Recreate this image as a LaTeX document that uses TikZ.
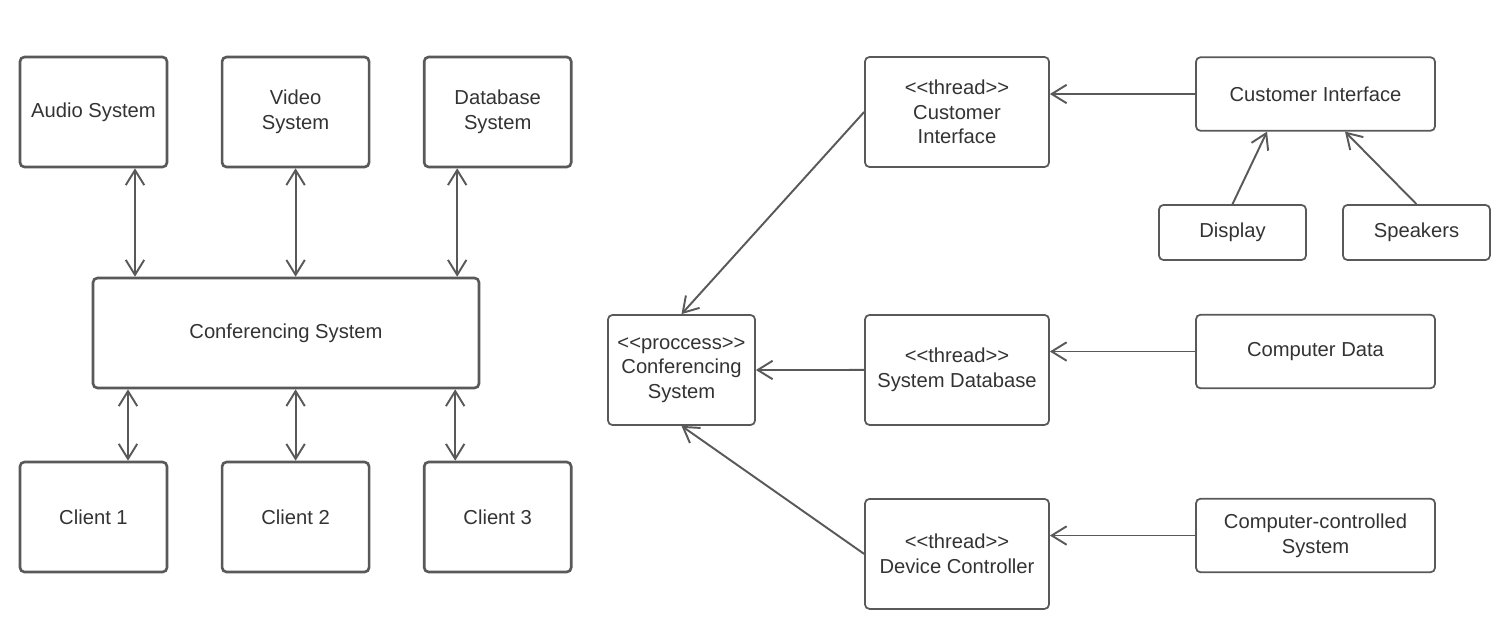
\documentclass[tikz,border=0pt]{standalone}
\usepackage{fontspec}
\setmainfont{Liberation Sans}
\usepackage{tikz}
\usetikzlibrary{arrows.meta}
\usetikzlibrary{positioning}
\definecolor{linegray}{HTML}{595959}
\definecolor{textgray}{HTML}{333333}
\tikzset{
    module/.style={
      rectangle, rounded corners=2.5pt,
           draw=linegray, line width=1.5pt,
           inner sep=2pt,
           align=center,
           text=textgray,
           font=\fontsize{11.5}{14}\selectfont,
           minimum width=2.94cm,
           minimum height=2.2cm,
           },
}
\tikzset{
    task/.style={
      rectangle, rounded corners=2.5pt,
           draw=linegray, line width=1pt,
           inner sep=2pt,
           align=center,
           text=textgray,
           font=\fontsize{11.5}{14}\selectfont,
           minimum width=3.68cm,
           minimum height=2.2cm,
           },
}
\tikzset{
    source/.style={
      task,
           minimum width=4.78cm,
           minimum height=1.47cm,
           },
}
\tikzset{
    device/.style={
      task,
           minimum width=2.94cm,
           minimum height=1.1cm,
           },
}
\tikzset{
    link/.style={
      draw=linegray, line width=1.1pt,
           },
}

\begin{document}
\begin{tikzpicture}[x=0.02cm,y=-0.02cm,>={Straight Barb[length=8.5pt,width=10.5pt]}]
\useasboundingbox (0,0) rectangle (1498,639);

% left: modules
\node[module](audio) at (93.5,112){Audio System};
\node[module,right = 1.05cm of audio](video){Video\\System};
\node[module,right = 1.05cm of video](db){Database\\System};

\node[module,minimum width=7.72cm](conf) at (286,333){Conferencing System};

\node[module](cl1) at (93.5,517){Client 1};
\node[module,right = 1.05cm of cl1](cl2){Client 2};
\node[module,right = 1.05cm of cl2](cl3){Client 3};

\path ([xshift=0.83cm]audio.south) edge[<->,link]([xshift=0.83cm]audio.south |- conf.north);
\path (video.south) edge[<->,link](video.south |- conf.north);
\path ([xshift=-0.81cm]db.south) edge[<->,link]([xshift=-0.81cm]db.south |- conf.north);

\path ([xshift=0.69cm]cl1.north) edge[<->,link]([xshift=0.69cm]cl1.north |- conf.south);
\path (cl2.north) edge[<->,link](cl2.north |- conf.south);
\path ([xshift=-0.85cm]cl3.north) edge[<->,link]([xshift=-0.85cm]cl3.north |- conf.south);

% right: process and threads
\node[device,minimum height=2.2cm](proc) at (681.5,370){<{}<proccess>{}>\\Conferencing\\System};

\node[task](tci) at (957,112){<{}<thread>{}>\\Customer\\Interface};
\node[task,below = 2.925cm of tci](tsd){<{}<thread>{}>\\System Database};
\node[task,below = 1.445cm of tsd](tdc){<{}<thread>{}>\\Device Controller};

\node[source](ci) at (1315.5,94){Customer Interface};
\node[device](disp) at (1232.5,232.5){Display};
\node[device,right = 0.705cm of disp](spk){Speakers};

\node[source](cd) at (1315.5,351.5){Computer Data};
\node[source](ccs) at (1315.5,535.5){Computer-controlled\\System};

\path (ci.west) edge[->,link](ci.west -| tci.east);
\path (disp.north) edge[->,link]([xshift=-0.97cm]ci.south);
\path (spk.north) edge[->,link]([xshift=0.59cm]ci.south);

\path (cd.west) edge[->,link](cd.west -| tsd.east);
\path (ccs.west) edge[->,link](ccs.west -| tdc.east);

\path (tci.west) edge[->,link](proc.north);
\path (tsd.west) edge[->,link](proc.east);
\path (tdc.west) edge[->,link](proc.south);

\end{tikzpicture}
\end{document}
